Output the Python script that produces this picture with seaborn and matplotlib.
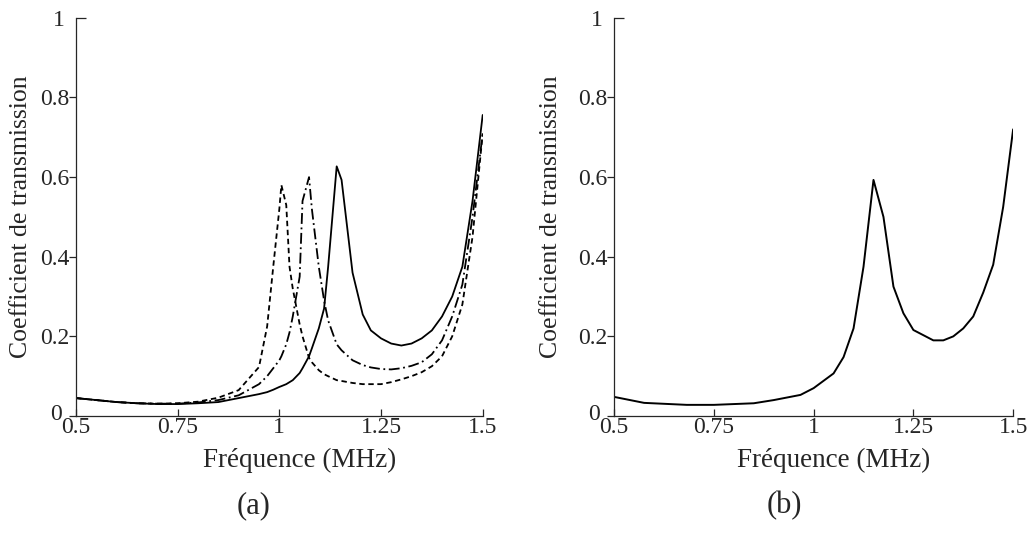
import numpy as np
import pandas as pd
import matplotlib
matplotlib.use("Agg")
import matplotlib.pyplot as plt
from matplotlib.ticker import FixedLocator, FixedFormatter
from matplotlib.transforms import ScaledTranslation
import seaborn as sns

# frequency (MHz) and transmission coefficient, panel (a): three curves
freq_a = [0.5, 0.55, 0.6, 0.65, 0.7, 0.75, 0.8, 0.85, 0.9, 0.95, 0.97, 0.985, 1.0, 1.005,
          1.017, 1.025, 1.033, 1.05, 1.057, 1.073, 1.08, 1.097, 1.11, 1.12, 1.141, 1.153,
          1.18, 1.205, 1.225, 1.25, 1.275, 1.3, 1.325, 1.35, 1.375, 1.4, 1.425, 1.45, 1.475, 1.5]
solid_a = [0.045, 0.04, 0.035, 0.032, 0.03, 0.03, 0.032, 0.035, 0.045, 0.055, 0.06, 0.066, 0.073, 0.075,
           0.08, 0.085, 0.09, 0.108, 0.12, 0.15, 0.17, 0.22, 0.27, 0.375, 0.627, 0.593,
           0.36, 0.255, 0.215, 0.195, 0.182, 0.177, 0.182, 0.195, 0.215, 0.25, 0.3, 0.375, 0.54, 0.756]
dashdot_a = [0.045, 0.04, 0.035, 0.032, 0.031, 0.031, 0.034, 0.04, 0.052, 0.08, 0.1, 0.12, 0.14, 0.15,
             0.18, 0.21, 0.25, 0.35, 0.54, 0.60, 0.52, 0.375, 0.29, 0.24, 0.18, 0.165,
             0.14, 0.128, 0.122, 0.118, 0.117, 0.12, 0.126, 0.135, 0.155, 0.19, 0.25, 0.33, 0.50, 0.71]
dashed_a = [0.045, 0.04, 0.035, 0.032, 0.031, 0.032, 0.036, 0.046, 0.065, 0.123, 0.225, 0.375, 0.52, 0.58,
            0.53, 0.375, 0.32, 0.23, 0.2, 0.146, 0.135, 0.115, 0.105, 0.1, 0.09, 0.088,
            0.083, 0.08, 0.08, 0.08, 0.085, 0.092, 0.1, 0.11, 0.125, 0.15, 0.2, 0.28, 0.45, 0.71]

# panel (b): one curve
freq_b = [0.5, 0.575, 0.682, 0.75, 0.85, 0.9, 0.967, 1.0, 1.05, 1.075, 1.1, 1.125, 1.15, 1.175,
          1.2, 1.225, 1.25, 1.3, 1.325, 1.35, 1.375, 1.4, 1.425, 1.45, 1.475, 1.5]
trans_b = [0.048, 0.033, 0.028, 0.028, 0.032, 0.04, 0.053, 0.07, 0.107, 0.148, 0.22, 0.375, 0.593, 0.5,
           0.325, 0.258, 0.216, 0.19, 0.19, 0.2, 0.22, 0.25, 0.31, 0.38, 0.525, 0.72]

x_ticks = [0.5, 0.75, 1, 1.25, 1.5]
x_labels = ["0.5", "0.75", "1", "1.25", "1.5"]
y_ticks = [0, 0.2, 0.4, 0.6, 0.8]
y_labels = ["0", "0.2", "0.4", "0.6", "0.8"]

sns.set_style("ticks")
plt.rcParams["font.family"] = ["Liberation Serif", "DejaVu Serif"]

df_a = pd.DataFrame({"f": freq_a * 3,
                     "t": solid_a + dashdot_a + dashed_a,
                     "c": ["s"] * len(freq_a) + ["dd"] * len(freq_a) + ["d"] * len(freq_a)})
df_b = pd.DataFrame({"f": freq_b, "t": trans_b})

fig = plt.figure(figsize=(10.27, 5.33), dpi=100)
ax1 = fig.add_axes([0.074, 0.2195, 0.396, 0.747])
ax2 = fig.add_axes([0.598, 0.2195, 0.3885, 0.747])

sns.lineplot(data=df_a, x="f", y="t", style="c", color="black", linewidth=1.3,
             dashes={"s": "", "dd": (6, 2, 1, 2), "d": (3, 2)}, legend=False, ax=ax1)
sns.lineplot(data=df_b, x="f", y="t", color="black", linewidth=1.4, ax=ax2)

for ax, tag, tx in [(ax1, "(a)", 0.437), (ax2, "(b)", 0.426)]:
    ax.set_xlim(0.5, 1.5)
    ax.set_ylim(0, 1)
    sns.despine(ax=ax)
    ax.set_xticks(x_ticks)
    ax.set_xticklabels(x_labels)
    ax.yaxis.set_major_locator(FixedLocator(y_ticks))
    ax.yaxis.set_major_formatter(FixedFormatter(y_labels))
    ax.yaxis.set_minor_locator(FixedLocator([1]))
    ax.yaxis.set_minor_formatter(FixedFormatter(["1"]))
    ax.tick_params(axis="x", direction="in", length=5, width=0.9, labelsize=17, pad=1)
    ax.tick_params(axis="y", which="major", direction="out", length=5, width=0.9, labelsize=17, pad=0)
    ax.tick_params(axis="y", which="minor", direction="in", length=7, width=0.9, labelsize=17, pad=8)
    for s in ax.spines.values():
        s.set_linewidth(0.9)
    ax.set_xlabel("Fréquence (MHz)", fontsize=19.5)
    ax.set_ylabel("Coefficient de transmission", fontsize=18.5)
    ax.xaxis.set_label_coords(0.55, -0.08)
    ax.text(tx, -0.225, tag, transform=ax.transAxes, fontsize=22, ha="center", va="center")
    # nudge the "0" label up and left, as in the reference
    lbl = ax.yaxis.get_major_ticks()[0].label1
    lbl.set_transform(lbl.get_transform() + ScaledTranslation(-5 / 72, 3 / 72, fig.dpi_scale_trans))

ax1.yaxis.set_label_coords(-0.108, 0.5)
ax2.yaxis.set_label_coords(-0.13, 0.5)

fig.savefig("out.png", dpi=100)
